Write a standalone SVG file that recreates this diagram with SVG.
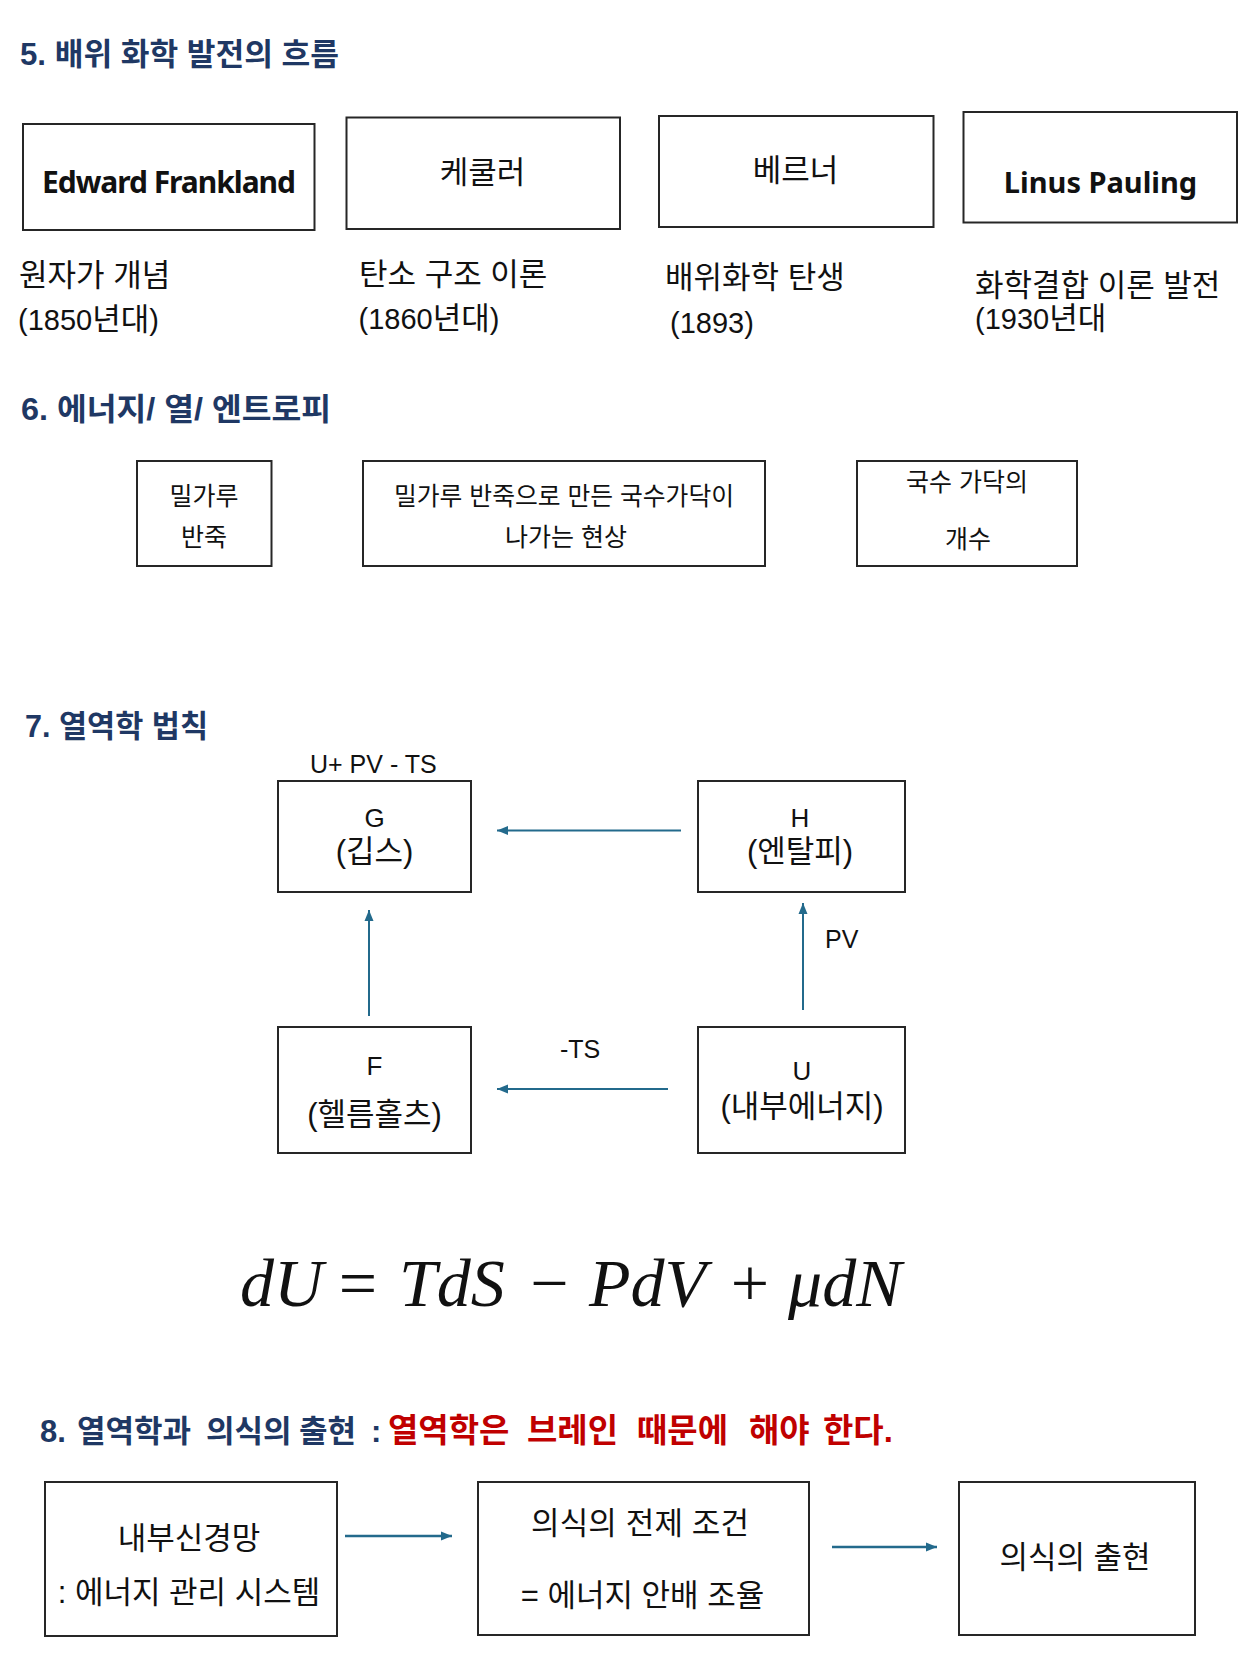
<svg xmlns="http://www.w3.org/2000/svg" width="1260" height="1680" viewBox="0 0 1260 1680">
<defs>
<style>
.box{fill:#fff;stroke:#262626;stroke-width:2}
.kr{font-family:"Liberation Sans","Noto Sans CJK KR",sans-serif;fill:#111}
.h{font-family:"Liberation Sans","Noto Sans CJK KR",sans-serif;font-weight:bold;fill:#1F3864}
.red{fill:#C00000}
.en{font-family:"Noto Sans","Liberation Sans",sans-serif;font-weight:bold;fill:#111}
.c{text-anchor:middle}
.conn{stroke:#236A8C;stroke-width:2;fill:none}
.conn2{stroke:#236A8C;stroke-width:2.6;fill:none}
.eq{font-family:"Liberation Serif","DejaVu Serif",serif;font-style:italic;fill:#111}
.op{font-family:"Liberation Serif","DejaVu Serif",serif;fill:#111;text-anchor:middle}
</style>
<marker id="ah" markerUnits="userSpaceOnUse" markerWidth="12" markerHeight="10" refX="11" refY="5" orient="auto"><path d="M0,0.5 L11,5 L0,9.5 z" fill="#236A8C"/></marker>
</defs>
<rect x="0" y="0" width="1260" height="1680" fill="#fff"/>

<g id="headings">
<text class="h" x="20" y="65" font-size="31" textLength="319" lengthAdjust="spacingAndGlyphs">5. 배위 화학 발전의 흐름</text>
<text class="h" x="21" y="420" font-size="31" textLength="310" lengthAdjust="spacingAndGlyphs">6. 에너지/ 열/ 엔트로피</text>
<text class="h" x="25" y="737" font-size="31" textLength="183" lengthAdjust="spacingAndGlyphs">7. 열역학 법칙</text>
<text class="h" y="1442" font-size="31"><tspan x="40">8.</tspan><tspan x="77">열역학과</tspan><tspan x="206">의식의</tspan><tspan x="299">출현</tspan><tspan x="371">:</tspan><tspan class="red" x="388" font-size="33">열역학은</tspan><tspan class="red" x="527" font-size="33">브레인</tspan><tspan class="red" x="637" font-size="33">때문에</tspan><tspan class="red" x="749" font-size="33">해야</tspan><tspan class="red" x="823" font-size="33">한다.</tspan></text>
</g>

<g id="node-frankland">
<rect class="box" x="23" y="124" width="291.5" height="106"/>
<text class="en c" x="169" y="193" font-size="30" textLength="254" lengthAdjust="spacing">Edward Frankland</text>
<text class="kr" x="19" y="286" font-size="31">원자가 개념</text>
<text class="kr" x="18" y="330" font-size="29">(1850<tspan font-size="31">년대</tspan>)</text>
</g>
<g id="node-kekule">
<rect class="box" x="346.5" y="117.5" width="273.5" height="111.5"/>
<text class="kr c" x="482.5" y="183" font-size="31">케쿨러</text>
<text class="kr" x="359" y="285" font-size="31">탄소 구조 이론</text>
<text class="kr" x="358.5" y="329" font-size="29">(1860<tspan font-size="31">년대</tspan>)</text>
</g>
<g id="node-werner">
<rect class="box" x="659" y="116" width="274.5" height="111"/>
<text class="kr c" x="795.5" y="181" font-size="31">베르너</text>
<text class="kr" x="665" y="288" font-size="31">배위화학 탄생</text>
<text class="kr" x="670" y="333" font-size="29">(1893)</text>
</g>
<g id="node-pauling">
<rect class="box" x="963.5" y="112" width="273.5" height="110.5"/>
<text class="en c" x="1100.5" y="193" font-size="29">Linus Pauling</text>
<text class="kr" x="975" y="296" font-size="31">화학결합 이론 발전</text>
<text class="kr" x="975" y="329" font-size="29">(1930<tspan font-size="31">년대</tspan></text>
</g>

<g id="node-dough">
<rect class="box" x="137" y="461" width="134.5" height="105"/>
<text class="kr c" x="204" y="505" font-size="25">밀가루</text>
<text class="kr c" x="204" y="546" font-size="25">반죽</text>
</g>
<g id="node-noodle">
<rect class="box" x="363" y="461" width="402" height="105"/>
<text class="kr c" x="564" y="505" font-size="24.5" textLength="340" lengthAdjust="spacingAndGlyphs">밀가루 반죽으로 만든 국수가닥이</text>
<text class="kr c" x="566" y="546" font-size="25">나가는 현상</text>
</g>
<g id="node-count">
<rect class="box" x="857" y="461" width="220" height="105"/>
<text class="kr c" x="967" y="491" font-size="25">국수 가닥의</text>
<text class="kr c" x="968" y="548" font-size="25">개수</text>
</g>

<g id="node-G">
<text class="kr" x="310" y="773" font-size="25">U+ PV - TS</text>
<rect class="box" x="278" y="781" width="193" height="111"/>
<text class="kr c" x="374.5" y="827" font-size="26">G</text>
<text class="kr c" x="374.5" y="862" font-size="31">(깁스)</text>
</g>
<g id="node-H">
<rect class="box" x="698" y="781" width="207" height="111"/>
<text class="kr c" x="800" y="827" font-size="26">H</text>
<text class="kr c" x="800" y="862" font-size="31">(엔탈피)</text>
</g>
<g id="node-F">
<rect class="box" x="278" y="1027" width="193" height="126"/>
<text class="kr c" x="374.5" y="1075" font-size="26">F</text>
<text class="kr c" x="374.5" y="1125" font-size="31">(헬름홀츠)</text>
</g>
<g id="node-U">
<rect class="box" x="698" y="1027" width="207" height="126"/>
<text class="kr c" x="802" y="1080" font-size="26">U</text>
<text class="kr c" x="802" y="1117" font-size="31">(내부에너지)</text>
</g>

<g id="equation">
<text class="eq" x="240" y="1306" font-size="68">dU</text>
<text class="op" x="358" y="1306" font-size="68">=</text>
<text class="eq" x="399" y="1306" font-size="68">TdS</text>
<text class="op" x="549.5" y="1306" font-size="68">−</text>
<text class="eq" x="589" y="1306" font-size="68">PdV</text>
<text class="op" x="750" y="1306" font-size="68">+</text>
<text class="eq" x="788" y="1306" font-size="68">μdN</text>
</g>

<g id="node-network">
<rect class="box" x="45" y="1482" width="292" height="154"/>
<text class="kr c" x="189" y="1549" font-size="31">내부신경망</text>
<text class="kr c" x="189" y="1603" font-size="31">: 에너지 관리 시스템</text>
</g>
<g id="node-precondition">
<rect class="box" x="478" y="1482" width="331" height="153"/>
<text class="kr c" x="640" y="1534" font-size="31" textLength="218" lengthAdjust="spacing">의식의 전제 조건</text>
<text class="kr c" x="642.5" y="1606" font-size="31">= 에너지 안배 조율</text>
</g>
<g id="node-emergence">
<rect class="box" x="959" y="1482" width="236" height="153"/>
<text class="kr c" x="1075" y="1568" font-size="31">의식의 출현</text>
</g>

<g id="connectors">
<path class="conn" d="M681,830.5 L497,830.5" marker-end="url(#ah)"/>
<path class="conn" d="M369,1016 L369,910" marker-end="url(#ah)"/>
<path class="conn" d="M803,1010 L803,903" marker-end="url(#ah)"/>
<path class="conn" d="M668,1089 L497,1089" marker-end="url(#ah)"/>
<text class="kr" x="560" y="1058" font-size="25">-TS</text>
<text class="kr" x="825" y="948" font-size="25">PV</text>
<path class="conn2" d="M345,1536 L452,1536" marker-end="url(#ah)"/>
<path class="conn2" d="M832,1547 L937,1547" marker-end="url(#ah)"/>
</g>
</svg>
